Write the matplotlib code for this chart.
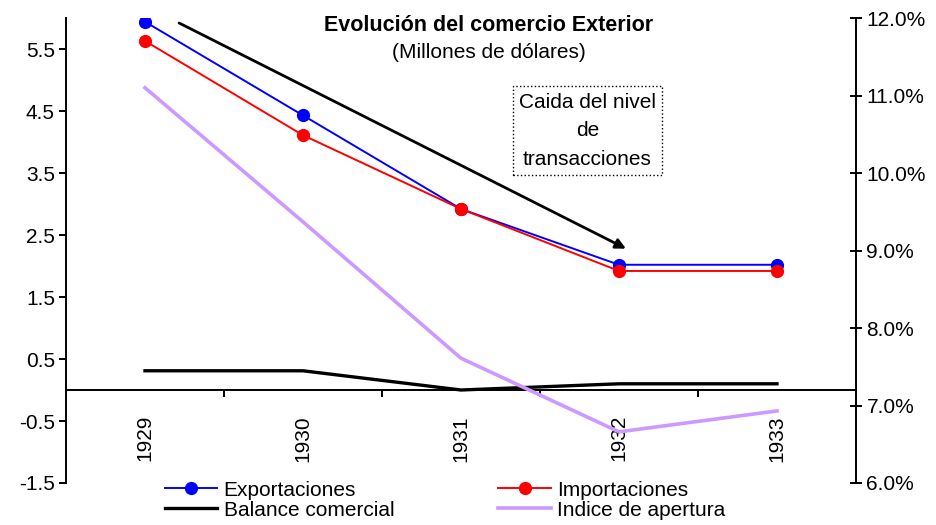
import numpy as np
import matplotlib.pyplot as plt
from matplotlib.ticker import PercentFormatter

plt.rcParams['font.family'] = ['Liberation Sans', 'DejaVu Sans']

# Comercio exterior (millones de dolares) e indice de apertura
years = ['1929', '1930', '1931', '1932', '1933']
exportaciones = [5.94, 4.43, 2.92, 2.02, 2.02]
importaciones = [5.63, 4.11, 2.92, 1.92, 1.92]
balance = [0.31, 0.31, 0.0, 0.10, 0.10]
apertura = [0.1110, 0.0937, 0.0761, 0.0666, 0.0693]

x = np.arange(len(years))

fig = plt.figure(figsize=(9.36, 5.25), dpi=100)
ax = fig.add_axes([0.0705, 0.08, 0.844, 0.8857])
ax2 = ax.twinx()

l1, = ax.plot(x, exportaciones, color='#0000FF', lw=1.4, marker='o', ms=8.5, zorder=4)
l2, = ax.plot(x, importaciones, color='#FF0000', lw=1.4, marker='o', ms=8.5, zorder=4)
l3, = ax.plot(x, balance, color='black', lw=2.4, zorder=3)
l4, = ax2.plot(x, apertura, color='#CC99FF', lw=2.6)

ax.set_xlim(-0.5, len(years) - 0.5)
ax.set_ylim(-1.5, 6.0)
yt = np.arange(-1.5, 6.0, 1.0)
ax.set_yticks(yt)
ax.set_yticklabels(['%.1f' % v for v in yt])
ax2.set_ylim(0.06, 0.12)
ax2.set_yticks(np.arange(0.06, 0.1201, 0.01))
ax2.yaxis.set_major_formatter(PercentFormatter(xmax=1, decimals=1))

# eje x cruzando en cero, marcas entre categorias
ax.spines['bottom'].set_position(('data', 0))
ax.spines['top'].set_visible(False)
ax.spines['right'].set_visible(False)
ax2.spines['top'].set_visible(False)
ax2.spines['bottom'].set_visible(False)
ax2.spines['left'].set_visible(False)
for s in ['left', 'bottom']:
    ax.spines[s].set_linewidth(1.4)
ax2.spines['right'].set_linewidth(1.4)

ax.set_xticks(x)
ax.set_xticklabels(years, rotation=90, va='top', ha='center')
ax.tick_params(axis='x', which='major', length=0, pad=18, labelsize=15)
ax.set_xticks(x[:-1] + 0.5, minor=True)
ax.tick_params(axis='x', which='minor', length=5, width=1.4, direction='out')
ax.tick_params(axis='y', length=5, width=1.4, labelsize=15, pad=3)
ax2.tick_params(axis='y', length=9, width=1.4, labelsize=15, pad=3, direction='inout')

ax.text(0.535, 0.983, 'Evolución del comercio Exterior', transform=ax.transAxes,
        ha='center', va='center', fontsize=15.5, fontweight='bold')
ax.text(0.535, 0.925, '(Millones de dólares)', transform=ax.transAxes,
        ha='center', va='center', fontsize=15)

ax.annotate('', xy=(3.06, 2.26), xytext=(0.20, 5.94),
            arrowprops=dict(arrowstyle='-|>', color='black', lw=2, mutation_scale=15))
ax.text(2.80, 4.18, 'Caida del nivel\nde\ntransacciones', ha='center', va='center',
        fontsize=15, linespacing=1.65,
        bbox=dict(boxstyle='square,pad=0.3', fc='white', ec='black', ls=':', lw=1))

# leyenda en dos columnas, llenada por filas
fig.legend([l1, l3, l2, l4],
           ['Exportaciones', 'Balance comercial', 'Importaciones', 'Indice de apertura'],
           ncol=2, loc='lower left', bbox_to_anchor=(0.176, 0.01), frameon=False,
           fontsize=15, handlelength=2.5, handletextpad=0.33, columnspacing=5.0,
           labelspacing=0.05, borderaxespad=0, borderpad=0)

fig.savefig('out.png', dpi=100)
